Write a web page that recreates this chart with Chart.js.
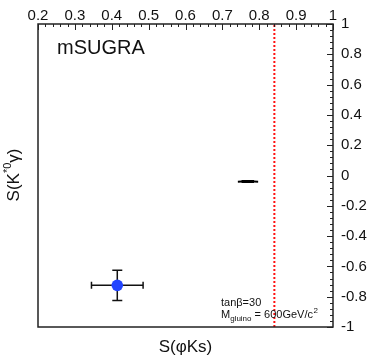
<!DOCTYPE html>
<html>
<head>
<meta charset="utf-8">
<script src="https://cdn.jsdelivr.net/npm/chart.js@4"></script>
<style>
  html, body { margin: 0; padding: 0; background: #fff; }
  #wrap { width: 374px; height: 360px; }
</style>
</head>
<body>
<div id="wrap"><canvas id="c"></canvas></div>
<script>
// measured point with errors
const pointX = [0.415];
const pointY = [-0.725];
const pointErrX = [0.07];
const pointErrY = [0.10];

// mSUGRA prediction band (tan beta = 30)
const bandX = [0.742, 0.752, 0.763, 0.775, 0.786, 0.797];
const bandY = [-0.041, -0.040, -0.039, -0.039, -0.040, -0.041];
const bandCoreX = [0.752, 0.786];
const bandCoreY = [-0.039, -0.040];

// red dotted limit
const limitX = [0.841, 0.841];
const limitY = [-1, 1];

const xRange = [0.2, 1];
const yRange = [-1, 1];

const FONT = '"Liberation Sans", Arial, Helvetica, sans-serif';

const framePlugin = {
    id: 'frame',
    afterDatasetsDraw(chart) {
        const { ctx, chartArea: a, scales } = chart;
        const xs = scales.x, ys = scales.y;
        ctx.save();

        // error bars
        ctx.strokeStyle = '#111';
        ctx.lineWidth = 1.5;
        pointX.forEach((v, i) => {
            const px = xs.getPixelForValue(v), py = ys.getPixelForValue(pointY[i]);
            const x1 = xs.getPixelForValue(v - pointErrX[i]), x2 = xs.getPixelForValue(v + pointErrX[i]);
            const y1 = ys.getPixelForValue(pointY[i] + pointErrY[i]), y2 = ys.getPixelForValue(pointY[i] - pointErrY[i]);
            ctx.beginPath();
            ctx.moveTo(x1, py); ctx.lineTo(x2, py);
            ctx.moveTo(x1, py - 3.5); ctx.lineTo(x1, py + 3.5);
            ctx.moveTo(x2, py - 3.5); ctx.lineTo(x2, py + 3.5);
            ctx.moveTo(px, y1); ctx.lineTo(px, y2);
            ctx.moveTo(px - 5, y1); ctx.lineTo(px + 5, y1);
            ctx.moveTo(px - 5, y2); ctx.lineTo(px + 5, y2);
            ctx.stroke();
            ctx.fillStyle = '#2244ff';
            ctx.beginPath();
            ctx.arc(px, py, 5.8, 0, Math.PI * 2);
            ctx.fill();
        });

        // frame
        ctx.strokeStyle = '#222';
        ctx.lineWidth = 1.5;
        ctx.strokeRect(a.left, a.top, a.right - a.left, a.bottom - a.top);

        // inward ticks on top axis
        ctx.lineWidth = 1;
        for (let k = 0; k <= 40; k++) {
            const v = xRange[0] + k * 0.02;
            const px = Math.round(xs.getPixelForValue(v)) + 0.5;
            const len = k % 5 === 0 ? 6 : 3;
            ctx.beginPath();
            ctx.moveTo(px, a.top); ctx.lineTo(px, a.top + len);
            ctx.stroke();
        }
        // inward ticks on right axis
        for (let k = 0; k <= 50; k++) {
            const v = yRange[0] + k * 0.04;
            const py = Math.round(ys.getPixelForValue(v)) + 0.5;
            const len = k % 5 === 0 ? 6 : 3;
            ctx.beginPath();
            ctx.moveTo(a.right, py); ctx.lineTo(a.right - len, py);
            ctx.stroke();
        }

        // texts
        ctx.fillStyle = '#111';
        ctx.textBaseline = 'alphabetic';
        ctx.textAlign = 'left';
        ctx.font = '20px ' + FONT;
        ctx.fillText('mSUGRA', 57, 54);

        ctx.font = '11px ' + FONT;
        ctx.fillText('tan\u03b2=30', 221, 306);
        ctx.fillText('M', 221, 318);
        let w = ctx.measureText('M').width;
        ctx.font = '8px ' + FONT;
        ctx.fillText('gluino', 221 + w, 321);
        w += ctx.measureText('gluino').width;
        ctx.font = '11px ' + FONT;
        ctx.fillText(' = 600GeV/c', 221 + w, 318);
        w += ctx.measureText(' = 600GeV/c').width;
        ctx.font = '8px ' + FONT;
        ctx.fillText('2', 221 + w + 0.5, 313);

        // x title
        ctx.font = '17px ' + FONT;
        ctx.textAlign = 'center';
        ctx.fillText('S(\u03c6Ks)', (a.left + a.right) / 2, 352);

        // y title (rotated)
        ctx.translate(19, 175);
        ctx.rotate(-Math.PI / 2);
        ctx.textAlign = 'left';
        const parts = [['S(K', 17, 0], ['*0', 11, -8], ['\u03b3)', 17, 0]];
        let total = 0;
        parts.forEach(p => { ctx.font = p[1] + 'px ' + FONT; total += ctx.measureText(p[0]).width; });
        let cx = -total / 2;
        parts.forEach(p => {
            ctx.font = p[1] + 'px ' + FONT;
            ctx.fillText(p[0], cx, p[2]);
            cx += ctx.measureText(p[0]).width;
        });
        ctx.restore();
    }
};

new Chart(document.getElementById('c'), {
    type: 'scatter',
    data: {
        datasets: [
            {
                label: 'limit',
                data: limitX.map((x, i) => ({ x, y: limitY[i] })),
                showLine: true,
                borderColor: '#ff1010',
                borderWidth: 2,
                borderDash: [2, 2],
                pointRadius: 0
            },
            {
                label: 'band',
                data: bandX.map((x, i) => ({ x, y: bandY[i] })),
                showLine: true,
                borderColor: '#000',
                borderWidth: 2,
                pointRadius: 0
            },
            {
                label: 'band core',
                data: bandCoreX.map((x, i) => ({ x, y: bandCoreY[i] })),
                showLine: true,
                borderColor: '#000',
                borderWidth: 3,
                pointRadius: 0
            }
        ]
    },
    options: {
        responsive: true,
        maintainAspectRatio: false,
        animation: false,
        layout: { padding: { left: 38, bottom: 33, top: 0, right: 0 } },
        plugins: { legend: { display: false }, tooltip: { enabled: false } },
        scales: {
            x: {
                type: 'linear',
                position: 'top',
                min: xRange[0],
                max: xRange[1],
                grid: { display: false, drawTicks: false, tickLength: 0 },
                border: { display: false },
                afterFit: s => { s.height = 24; },
                ticks: {
                    stepSize: 0.1,
                    padding: -1,
                    color: '#111',
                    font: { family: FONT, size: 15 },
                    maxRotation: 0,
                    autoSkip: false,
                    callback: v => +v.toFixed(1)
                }
            },
            y: {
                type: 'linear',
                position: 'right',
                min: yRange[0],
                max: yRange[1],
                grid: { display: false, drawTicks: false, tickLength: 0 },
                border: { display: false },
                afterFit: s => { s.width = 41; },
                ticks: {
                    stepSize: 0.2,
                    padding: 8,
                    color: '#111',
                    font: { family: FONT, size: 15 },
                    autoSkip: false,
                    callback: v => +v.toFixed(1)
                }
            }
        }
    },
    plugins: [framePlugin]
});
</script>
</body>
</html>
